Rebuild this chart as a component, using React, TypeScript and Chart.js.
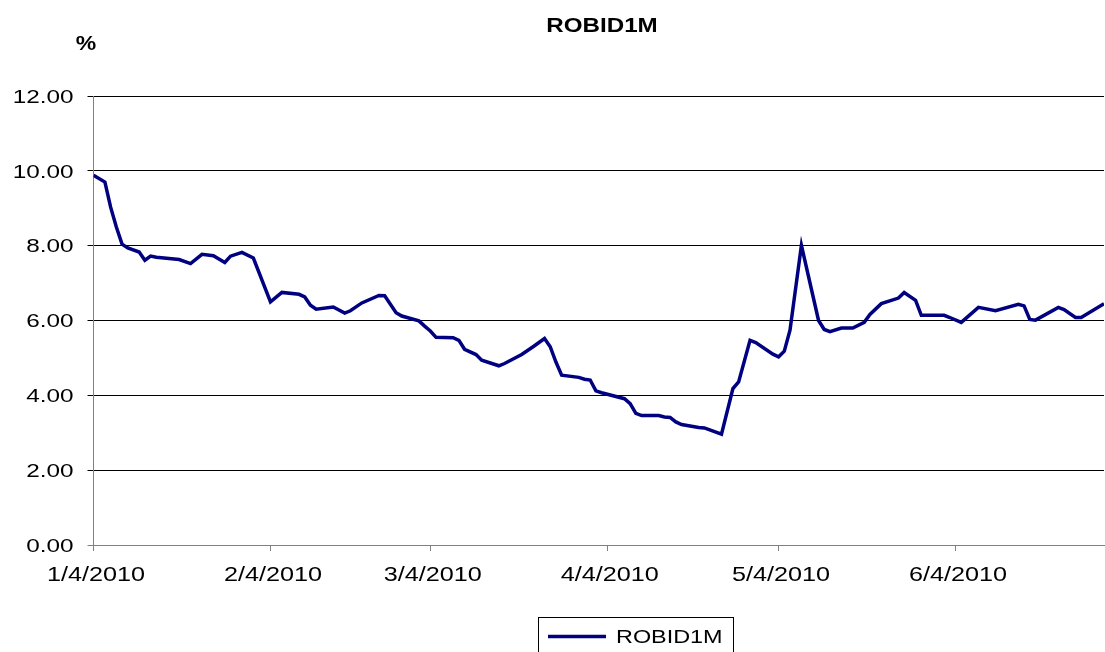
import React, { useEffect, useRef } from "react";
import { Chart, registerables } from "chart.js";

Chart.register(...registerables);

// Day offsets from 1/4/2010 and ROBID1M values (%)
const days: number[] = [
  0, 2, 3, 4, 5, 6, 8, 9, 10, 11, 15, 17, 19, 21, 23, 24, 26, 28,
  31, 33, 36, 37, 38, 39, 42, 44, 45, 47, 50, 51, 53, 54, 57, 58, 59, 60,
  63, 64, 65, 67, 68, 71, 72, 75, 77, 79, 80, 81, 82, 85, 86, 87, 88, 89,
  93, 94, 95, 96, 99, 100, 101, 102, 103, 106, 107, 110, 112, 113, 115, 116,
  119, 120, 121, 122, 124, 127, 128, 129, 131, 133, 135, 136, 138, 141, 142,
  144, 145, 149, 150, 152, 155, 158, 162, 163, 164, 165, 169, 170, 172, 173, 177,
];
const robid1m: number[] = [
  9.88, 9.70, 9.03, 8.50, 8.04, 7.94, 7.83, 7.61, 7.72, 7.69, 7.63, 7.52, 7.77, 7.73, 7.55, 7.72, 7.82, 7.67,
  6.50, 6.75, 6.70, 6.63, 6.41, 6.30, 6.36, 6.20, 6.26, 6.47, 6.67, 6.66, 6.21, 6.12, 5.99, 5.85, 5.72, 5.55,
  5.54, 5.47, 5.23, 5.09, 4.94, 4.79, 4.85, 5.09, 5.30, 5.52, 5.30, 4.89, 4.54, 4.48, 4.43, 4.41, 4.12, 4.07,
  3.91, 3.78, 3.52, 3.46, 3.46, 3.42, 3.41, 3.29, 3.22, 3.14, 3.13, 2.96, 4.18, 4.36, 5.47, 5.41,
  5.10, 5.03, 5.18, 5.74, 8.01, 6.00, 5.76, 5.70, 5.80, 5.80, 5.95, 6.16, 6.45, 6.60, 6.75,
  6.54, 6.14, 6.14, 6.08, 5.95, 6.35, 6.26, 6.43, 6.39, 6.03, 6.01, 6.35, 6.29, 6.08, 6.08, 6.45,
];
const tickDays: number[] = [0, 31, 59, 90, 120, 151];
const tickLabels: string[] = ["1/4/2010", "2/4/2010", "3/4/2010", "4/4/2010", "5/4/2010", "6/4/2010"];
const seriesName = "ROBID1M";
const chartTitle = "ROBID1M";
const unitLabel = "%";

const FONT = "'Liberation Sans', Arial, sans-serif";
const NAVY = "#000080";

function stretchText(
  ctx: CanvasRenderingContext2D,
  text: string,
  x: number,
  y: number,
  font: string,
  sx: number,
  align: CanvasTextAlign
) {
  ctx.save();
  ctx.font = font;
  ctx.fillStyle = "#000";
  ctx.textAlign = align;
  ctx.textBaseline = "alphabetic";
  ctx.translate(x, y);
  ctx.scale(sx, 1);
  ctx.fillText(text, 0, 0);
  ctx.restore();
}

const textPlugin = {
  id: "excelText",
  afterDraw(chart: any) {
    const ctx: CanvasRenderingContext2D = chart.ctx;
    const xs = chart.scales.x;
    const ys = chart.scales.y;
    // title and unit
    stretchText(ctx, chartTitle, 602, 31.5, `bold 21px ${FONT}`, 1.15, "center");
    stretchText(ctx, unitLabel, 86, 49.5, `bold 20px ${FONT}`, 1.15, "center");
    // y labels
    ys.ticks.forEach((t: any) => {
      const y = ys.getPixelForValue(t.value);
      stretchText(ctx, t.value.toFixed(2), 73.5, y + 6.8, `19px ${FONT}`, 1.28, "right");
    });
    // x labels
    xs.ticks.forEach((t: any) => {
      const idx = tickDays.indexOf(t.value);
      if (idx < 0) return;
      const x = xs.getPixelForValue(t.value);
      stretchText(ctx, tickLabels[idx], x + 2.5, 581, `21px ${FONT}`, 1.2, "center");
    });
    // legend
    ctx.save();
    ctx.strokeStyle = "#000";
    ctx.lineWidth = 1;
    ctx.strokeRect(538.5, 617.5, 195, 60);
    ctx.strokeStyle = NAVY;
    ctx.lineWidth = 3.5;
    ctx.beginPath();
    ctx.moveTo(548, 636.5);
    ctx.lineTo(606, 636.5);
    ctx.stroke();
    ctx.restore();
    stretchText(ctx, chart.data.datasets[0].label, 616, 642.5, `18px ${FONT}`, 1.3, "left");
  },
};

export default function App() {
  const ref = useRef<HTMLCanvasElement | null>(null);
  useEffect(() => {
    if (!ref.current) return;
    const chart = new Chart(ref.current, {
      type: "line",
      data: {
        datasets: [
          {
            label: seriesName,
            data: days.map((d, i) => ({ x: d, y: robid1m[i] })),
            borderColor: NAVY,
            backgroundColor: NAVY,
            borderWidth: 3.5,
            pointRadius: 0,
            tension: 0,
            fill: false,
          },
        ],
      },
      options: {
        animation: false,
        responsive: false,
        devicePixelRatio: 1,
        layout: { padding: { top: 96, right: 1, left: 0, bottom: 0 } },
        plugins: { legend: { display: false }, title: { display: false }, tooltip: { enabled: false } },
        scales: {
          x: {
            type: "linear",
            min: 0,
            max: 177,
            afterBuildTicks: (scale: any) => {
              scale.ticks = tickDays.map((v) => ({ value: v }));
            },
            afterFit: (scale: any) => {
              scale.height = 107;
            },
            ticks: { display: false },
            grid: {
              display: true,
              drawOnChartArea: false,
              drawTicks: true,
              tickLength: 6,
              color: "#808080",
              lineWidth: 1,
            },
            border: { display: true, color: "#808080", width: 1 },
          },
          y: {
            min: 0,
            max: 12,
            ticks: { display: false, stepSize: 2 },
            afterFit: (scale: any) => {
              scale.width = 93.5;
            },
            grid: {
              drawTicks: true,
              tickLength: 6,
              color: (c: any) => (c.tick && c.tick.value === 0 ? "#808080" : "#000"),
              lineWidth: 1,
            },
            border: { display: true, color: "#808080", width: 1 },
          },
        },
      },
      plugins: [textPlugin],
    });
    return () => chart.destroy();
  }, []);
  return (
    <div style={{ position: "fixed", left: 0, top: 0, width: 1105, height: 652, background: "#fff" }}>
      <canvas ref={ref} width={1105} height={652} style={{ display: "block" }} />
    </div>
  );
}
